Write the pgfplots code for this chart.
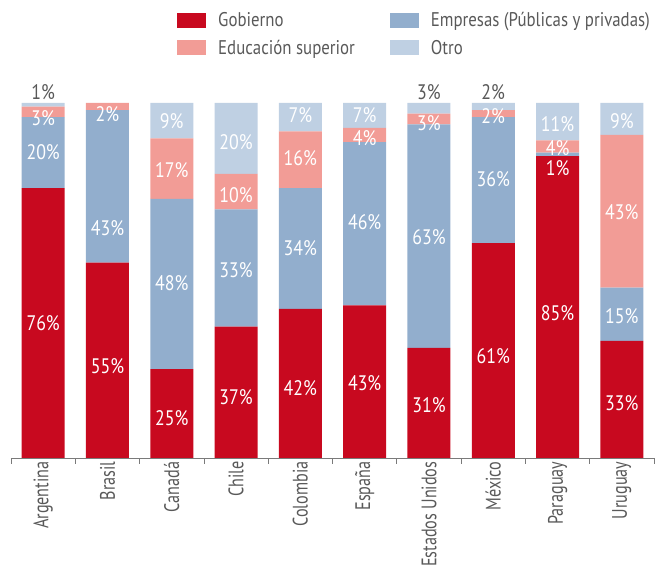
\documentclass[border=0pt]{standalone}
\usepackage{pgfplots}
\pgfplotsset{compat=1.18}
\usepackage{pgfplotstable}
\usepackage{fontspec}
\setmainfont{PT Sans}[FakeStretch=0.85]
\newfontfamily\tickfont{PT Sans}[FakeStretch=0.77]

\definecolor{gob}{HTML}{C8091F}
\definecolor{emp}{HTML}{92AECD}
\definecolor{edu}{HTML}{F29C96}
\definecolor{otro}{HTML}{BFD0E3}
\definecolor{txt}{HTML}{595959}

% 0 Argentina ... 9 Uruguay, shares in percent
\pgfplotstableread{
x gob emp edu otro
0 76 20 3 1
1 55 43 2 0
2 25 48 17 10
3 37 33 10 20
4 42 34 16 8
5 43 46 4 7
6 31 63 3 3
7 60.5 35.5 2 2
8 85 1 3.5 10.5
9 33 15 43 9
}\shares

% where the printed labels sit (height in percent) and what they say
\pgfplotstableread{
x y lab
0 38.0 76
0 86.2 20
0 95.8 3
1 25.9 55
1 64.8 43
1 96.9 2
2 11.3 25
2 49.3 48
2 81.1 17
2 94.9 9
3 17.2 37
3 53.0 33
3 74.1 10
3 89.0 20
4 19.7 42
4 59.2 34
4 84.5 16
4 96.6 7
5 21.1 43
5 66.5 46
5 90.1 4
5 96.6 7
6 14.9 31
6 62.3 63
6 94.4 3
7 28.7 61
7 78.6 36
7 96.3 2
8 40.8 85
8 81.7 1
8 87.3 4
8 94.1 11
9 15.5 33
9 40.0 15
9 69.3 43
9 94.9 9
}\labin
\pgfplotstableread{
x y lab
0 103.1 1
6 103.1 3
7 103.1 2
}\labout

\pgfplotsset{sq legend/.style={legend image code/.code={\fill[##1,draw=none] (0pt,-7.5pt) rectangle (29pt,7.5pt);}}}

\begin{document}
\begin{tikzpicture}
\begin{axis}[
  at={(0,0)}, anchor=south west,
  scale only axis, width=643pt, height=355pt,
  xmin=-0.5, xmax=9.5, ymin=0, ymax=100,
  ybar stacked, bar width=43pt,
  axis x line*=bottom, axis y line=none, ytick=\empty,
  axis line style={draw=txt!80, line width=0.8pt},
  xtick={0,...,9},
  xticklabels={Argentina,Brasil,Canadá,Chile,Colombia,España,Estados Unidos,México,Paraguay,Uruguay},
  major tick length=0pt,
  minor xtick={-0.5,0.5,...,9.5},
  minor tick length=6pt, tick align=outside,
  minor x tick style={draw=txt!80, line width=0.8pt},
  x tick label style={rotate=90, anchor=east, font=\tickfont\fontsize{21}{23}\selectfont, text=txt},
  clip=false,
  legend columns=2,
  legend cell align=left,
  legend style={draw=none, fill=none, at={(rel axis cs:0.2582,1.262)}, anchor=north west,
    inner sep=0pt, font=\fontsize{19.8}{22}\selectfont, text=txt, row sep=8pt,
    /tikz/every odd column/.append style={column sep=10pt},
    /tikz/every even column/.append style={column sep=33pt}},
]
\addplot[fill=gob, draw=none, sq legend] table[x=x, y=gob] {\shares};
\addplot[fill=emp, draw=none, sq legend] table[x=x, y=emp] {\shares};
\addplot[fill=edu, draw=none, sq legend] table[x=x, y=edu] {\shares};
\addplot[fill=otro, draw=none, sq legend] table[x=x, y=otro] {\shares};
\legend{Gobierno, Empresas (Públicas y privadas), Educación superior, Otro}
\end{axis}
\begin{axis}[
  at={(0,0)}, anchor=south west,
  scale only axis, width=643pt, height=355pt,
  xmin=-0.5, xmax=9.5, ymin=0, ymax=100,
  hide axis, clip=false,
  nodes near coords={\pgfplotspointmeta\%}, point meta=explicit symbolic,
  every node near coord/.append style={anchor=center, inner sep=0pt, font=\fontsize{21}{23}\selectfont},
]
\addplot[only marks, mark=*, mark size=0pt, mark options={draw=none, fill=none},
  every node near coord/.append style={text=white}] table[x=x, y=y, meta=lab] {\labin};
\addplot[only marks, mark=*, mark size=0pt, mark options={draw=none, fill=none},
  every node near coord/.append style={text=txt}] table[x=x, y=y, meta=lab] {\labout};
\end{axis}
\pgfresetboundingbox
\path (-11pt,-114pt) rectangle (645pt,458pt);
\end{tikzpicture}
\end{document}
